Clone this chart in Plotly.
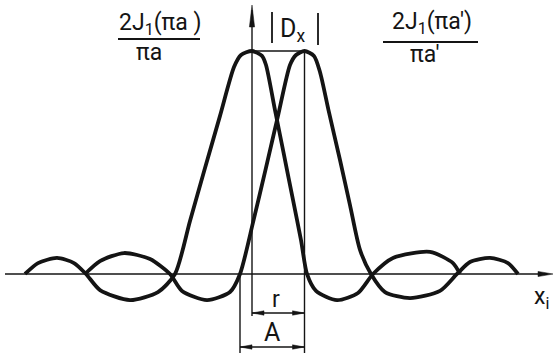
import plotly.graph_objects as go

# Two shifted Airy amplitude profiles 2J1(pi a)/(pi a), sketched along x_i.
# x in units of 10 px from the left-hand peak, y as relative amplitude.
left_x = [-22.7, -21.4, -19.5, -17.8, -16.6, -15.2, -12.2, -9.4, -7.7, -6.2, -4.7, -3.2, -1.8, -1.1,
          0.0, 1.0, 1.4, 2.3, 3.2, 4.1, 4.9, 5.5, 6.4, 8.5, 10.6, 12.1, 14.1, 17.8, 20.1, 20.8]
left_y = [0.0, 0.049, 0.072, 0.049, 0.0, -0.072, -0.117, -0.081, 0.0, 0.238, 0.475, 0.709, 0.928, 0.982,
          1.0, 0.978, 0.937, 0.735, 0.534, 0.332, 0.152, 0.0, -0.076, -0.117, -0.085, 0.0, 0.072, 0.099, 0.049, 0.0]

right_x = [-16.7, -15.2, -12.8, -10.2, -8.2, -7.0, -4.5, -2.2, -1.2, 0.14, 1.39, 2.6, 3.8, 4.4,
           5.25, 6.2, 6.8, 7.65, 8.8, 9.8, 10.8, 11.9, 13.3, 15.8, 18.8, 20.5, 21.8, 23.8, 25.6, 26.6]
right_y = [0.0, 0.058, 0.094, 0.067, 0.0, -0.076, -0.117, -0.081, 0.0, 0.238, 0.475, 0.709, 0.937, 0.982,
           1.0, 0.978, 0.906, 0.735, 0.511, 0.309, 0.108, 0.0, -0.081, -0.108, -0.076, 0.0, 0.054, 0.072, 0.049, 0.0]

peak_left = 0.0      # centre of first pattern
peak_right = 5.25    # centre of second pattern (separation r)
first_zero = -1.2    # first zero of the second pattern (radius A)

W, H = 553, 353
X_RANGE = [-25.2, 30.1]
Y_RANGE = [-0.3543, 1.2287]
INK = "#141414"
FONT = "Roboto"


def px(xp, yp):
    """Pixel position -> paper coordinates."""
    return xp / W, 1 - yp / H


def data_x(xp):
    return X_RANGE[0] + xp / W * (X_RANGE[1] - X_RANGE[0])


fig = go.Figure()
for xs, ys in ((left_x, left_y), (right_x, right_y)):
    fig.add_trace(go.Scatter(
        x=xs, y=ys, mode="lines",
        line=dict(color=INK, width=3.8, shape="spline", smoothing=0.7),
        hoverinfo="skip", showlegend=False,
    ))

shapes = []
thin = dict(color=INK, width=1.4)

# x_i axis with arrow
shapes.append(dict(type="line", xref="x", yref="y", x0=data_x(5), x1=data_x(545), y0=0, y1=0, line=thin))
ax, ay = px(553, 274)
bx, _ = px(538, 274)
dy = 2.6 / H
shapes.append(dict(type="path", xref="paper", yref="paper",
                   path=f"M {ax},{ay} L {bx},{ay + dy} L {bx},{ay - dy} Z",
                   fillcolor=INK, line=dict(color=INK, width=0.5)))

# vertical through the first peak, with arrow at the top
_, ytop = px(0, 10)
_, ybot = px(0, 316)
shapes.append(dict(type="line", xref="x", yref="paper", x0=peak_left, x1=peak_left, y0=ybot, y1=ytop, line=thin))
_, tip = px(0, 5)
_, base = px(0, 27)
hw = 2.6 / W * (X_RANGE[1] - X_RANGE[0])
shapes.append(dict(type="path", xref="x", yref="paper",
                   path=f"M {peak_left},{tip} L {peak_left + hw},{base} L {peak_left - hw},{base} Z",
                   fillcolor=INK, line=dict(color=INK, width=0.5)))

# vertical through the second peak, and through the first zero
shapes.append(dict(type="line", xref="x", yref="y", x0=peak_right, x1=peak_right, y0=Y_RANGE[0], y1=1.0, line=thin))
shapes.append(dict(type="line", xref="x", yref="y", x0=first_zero, x1=first_zero, y0=Y_RANGE[0], y1=0, line=thin))

# line joining the two maxima
shapes.append(dict(type="line", xref="x", yref="y", x0=peak_left, x1=peak_right, y0=1.0, y1=1.0, line=thin))

# dimension lines r and A
head = 12 / W * (X_RANGE[1] - X_RANGE[0])
for x0, x1, yp in ((peak_left, peak_right, 313), (first_zero, peak_right, 347)):
    _, yy = px(0, yp)
    shapes.append(dict(type="line", xref="x", yref="paper", x0=x0, x1=x1, y0=yy, y1=yy, line=thin))
    d = 2.2 / H
    shapes.append(dict(type="path", xref="x", yref="paper",
                       path=f"M {x0},{yy} L {x0 + head},{yy + d} L {x0 + head},{yy - d} Z",
                       fillcolor=INK, line=dict(color=INK, width=0.5)))
    shapes.append(dict(type="path", xref="x", yref="paper",
                       path=f"M {x1},{yy} L {x1 - head},{yy + d} L {x1 - head},{yy - d} Z",
                       fillcolor=INK, line=dict(color=INK, width=0.5)))

# fraction bars
for xa, xb, yp in ((118, 200, 39), (383, 478, 42)):
    xa_p, yy = px(xa, yp)
    xb_p, _ = px(xb, yp)
    shapes.append(dict(type="line", xref="paper", yref="paper", x0=xa_p, x1=xb_p, y0=yy, y1=yy,
                       line=dict(color=INK, width=1.8)))

# |D_x| bars
for xb, y0, y1 in ((272, 12, 43), (318, 13, 45)):
    xx, ya = px(xb, y0)
    _, yb = px(xb, y1)
    shapes.append(dict(type="line", xref="paper", yref="paper", x0=xx, x1=xx, y0=ya, y1=yb,
                       line=dict(color=INK, width=1.8)))

annotations = []


def label(text, xp, yp, size=23):
    x, y = px(xp, yp)
    annotations.append(dict(text=text, x=x, y=y, xref="paper", yref="paper",
                            xanchor="center", yanchor="middle", showarrow=False,
                            font=dict(family=FONT, size=size, color=INK)))


label("2J<sub>1</sub>(πa )", 160, 24)
label("πa", 149, 53)
label("2J<sub>1</sub>(πa')", 432, 23)
label("πa'", 425, 55)
label("D<sub>x</sub>", 292, 30, 25)
label("r", 276, 299)
label("A", 272, 332, 25)
label("x<sub>i</sub>", 541, 298)

fig.update_layout(
    width=W, height=H,
    margin=dict(l=0, r=0, t=0, b=0),
    paper_bgcolor="white", plot_bgcolor="white",
    xaxis=dict(range=X_RANGE, visible=False, fixedrange=True),
    yaxis=dict(range=Y_RANGE, visible=False, fixedrange=True),
    shapes=shapes, annotations=annotations,
    showlegend=False,
)

fig.write_html("out.html")
